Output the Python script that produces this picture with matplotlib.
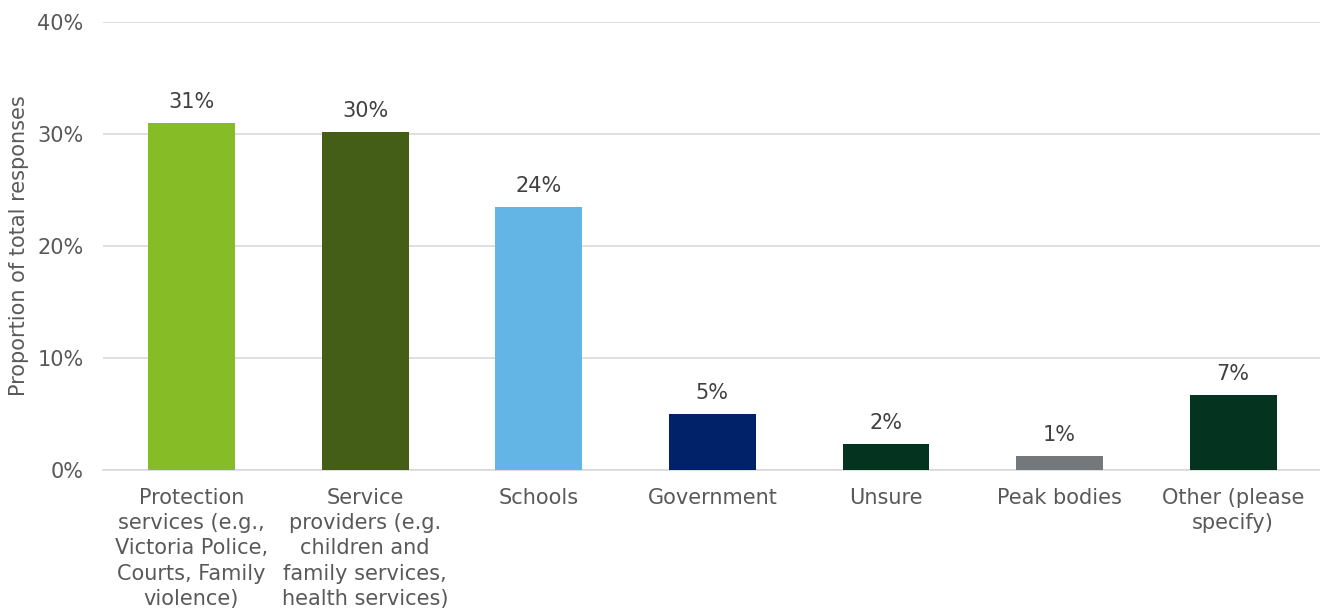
import matplotlib.pyplot as plt
from matplotlib.ticker import FuncFormatter

categories = [
    "Protection\nservices (e.g.,\nVictoria Police,\nCourts, Family\nviolence)",
    "Service\nproviders (e.g.\nchildren and\nfamily services,\nhealth services)",
    "Schools",
    "Government",
    "Unsure",
    "Peak bodies",
    "Other (please\nspecify)",
]
shares = [31.0, 30.2, 23.5, 5.0, 2.3, 1.25, 6.7]
colors = ["#86BC25", "#445E17", "#62B5E5", "#012169", "#043420", "#75787B", "#043420"]

text_grey = "#595959"
plt.rcParams["font.family"] = ["DejaVu Sans"]

fig = plt.figure(figsize=(13.2, 6.09), dpi=100)
ax = fig.add_axes([0.078, 0.228, 0.922, 0.736])

x = range(len(categories))
bars = ax.bar(x, shares, width=0.5, color=colors, zorder=3)
for b, v in zip(bars, shares):
    ax.text(b.get_x() + b.get_width() / 2, v + 1.0, "%.0f%%" % v,
            ha="center", va="bottom", fontsize=15, color="#404040")

ax.set_ylim(0, 40)
ax.set_xlim(-0.51, 6.5)
ax.set_yticks([0, 10, 20, 30, 40])
ax.yaxis.set_major_formatter(FuncFormatter(lambda v, p: "%d%%" % v))
ax.set_xticks(list(x))
ax.set_xticklabels(categories, fontsize=15, color=text_grey, linespacing=1.32)
ax.tick_params(axis="y", labelsize=15, colors=text_grey, length=0, pad=14)
ax.tick_params(axis="x", length=0, pad=13)
ax.grid(axis="y", color="#D9D9D9", lw=1.2, zorder=0)
for s in ["top", "right", "left"]:
    ax.spines[s].set_visible(False)
ax.spines["bottom"].set_color("#D9D9D9")
ax.spines["bottom"].set_linewidth(1.2)
ax.set_ylabel("Proportion of total responses", fontsize=15, color=text_grey, labelpad=6)

fig.savefig("out.png", dpi=100)
